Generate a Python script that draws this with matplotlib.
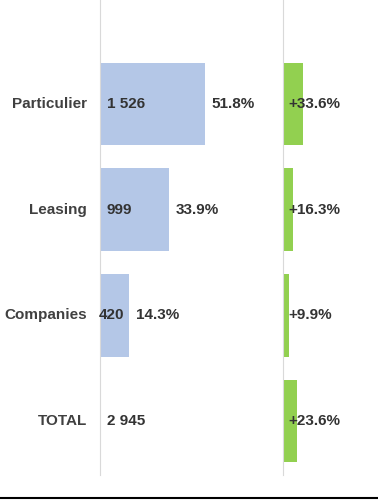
import matplotlib
matplotlib.use('Agg')
import matplotlib.pyplot as plt
from matplotlib.lines import Line2D

plt.rcParams['font.family'] = ['Liberation Sans', 'DejaVu Sans']

# ====== DATA ======
categories = ['Particulier', 'Leasing', 'Companies', 'TOTAL']
volumes = [1526, 999, 420, 2945]
growth = [33.6, 16.3, 9.9, 23.6]
# ==================

BLUE = '#b4c7e7'
GREEN = '#92d050'
GRID = '#d9d9d9'
LABEL = '#404040'
TEXT = '#333333'
FS = 11

total = volumes[-1]
shares = [v / total * 100 for v in volumes[:-1]]

def fmt_int(v):
    return f"{v:,}".replace(',', ' ')

fig = plt.figure(figsize=(3.78, 5.0), dpi=100)
ax1 = fig.add_axes([100 / 378, 0.05, 160 / 378, 0.95])
ax2 = fig.add_axes([283 / 378, 0.05, 95 / 378, 0.95])

rows = list(range(len(categories)))
bar_h = 0.78

# left panel: volumes (no bar for TOTAL)
ax1.barh(rows[:-1], volumes[:-1], height=bar_h, color=BLUE)
ax1.set_xlim(0, 2325)
for i, v in enumerate(volumes):
    off = -0.7 if v < 500 else 5
    ax1.annotate(fmt_int(v), xy=(0, i), xytext=(off, 0), textcoords='offset points',
                 ha='left', va='center', fontsize=FS, fontweight='bold', color=TEXT)
    ax1.annotate(categories[i], xy=(0, i), xytext=(-9.5, 0), textcoords='offset points',
                 ha='right', va='center', fontsize=FS, fontweight='bold', color=LABEL)
for i, s in enumerate(shares):
    ax1.annotate(f"{s:.1f}%", xy=(volumes[i], i), xytext=(5, 0), textcoords='offset points',
                 ha='left', va='center', fontsize=FS, fontweight='bold', color=TEXT)

# right panel: growth
ax2.barh(rows, growth, height=bar_h, color=GREEN)
ax2.set_xlim(0, 159.7)
for i, g in enumerate(growth):
    ax2.annotate(f"+{g:.1f}%", xy=(0, i), xytext=(4, 0), textcoords='offset points',
                 ha='left', va='center', fontsize=FS, fontweight='bold', color=TEXT)

for ax in (ax1, ax2):
    ax.set_ylim(3.51, -0.984)
    ax.set_xticks([])
    ax.set_yticks([])
    for side in ('top', 'right', 'bottom'):
        ax.spines[side].set_visible(False)
    ax.spines['left'].set_color(GRID)
    ax.spines['left'].set_linewidth(0.8)
    ax.patch.set_visible(False)

fig.add_artist(Line2D([0, 1], [0.005, 0.005], transform=fig.transFigure,
                      color='black', lw=1.5))

fig.savefig('out.png', dpi=100)
